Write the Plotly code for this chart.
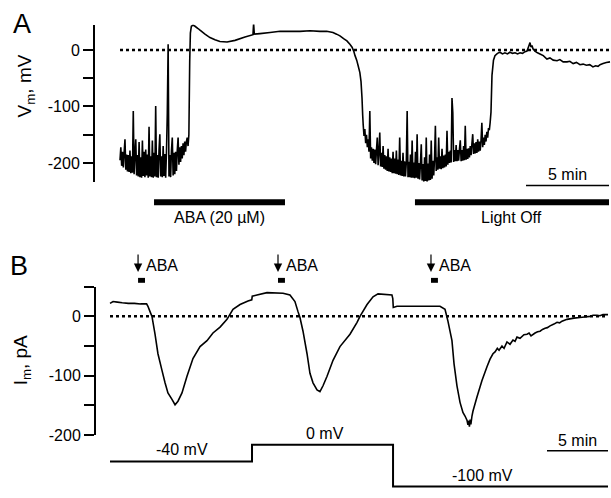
import plotly.graph_objects as go

W, H = 611, 498
FONT = "Liberation Sans, Arial, sans-serif"


def px(x):
    return x / W


def py(y):
    return (H - y) / H


# ---------------- Panel A: membrane potential (time in min, Vm in mV) ----------------
# noisy resting phase before ABA depolarisation
a_t1 = [0.00, 0.05, 0.10, 0.15, 0.20, 0.25, 0.30, 0.35, 0.40, 0.45,
        0.50, 0.55, 0.60, 0.65, 0.70, 0.75, 0.80, 0.85, 0.90, 0.95,
        1.00, 1.05, 1.10, 1.15, 1.20, 1.25, 1.30, 1.35, 1.40, 1.45,
        1.50, 1.55, 1.60, 1.65, 1.70, 1.75, 1.80, 1.85, 1.90, 1.95,
        2.00, 2.05, 2.10, 2.15, 2.20, 2.25, 2.30, 2.35, 2.40, 2.45,
        2.50, 2.55, 2.60, 2.65, 2.70, 2.75, 2.80, 2.85, 2.90, 2.95,
        3.00, 3.05, 3.10, 3.15, 3.20, 3.25, 3.30, 3.35, 3.40, 3.45,
        3.50, 3.55, 3.60, 3.65, 3.70, 3.75, 3.80, 3.85, 3.90, 3.95,
        4.00, 4.05, 4.10, 4.15]
a_v1 = [-195, -172, -205, -180, -208, -182, -158, -212, -185, -215,
        -186, -216, -178, -218, -188, -217, -108, -220, -184, -158,
        -222, -186, -224, -163, -225, -190, -226, -160, -223, -180,
        -225, -176, -222, -185, -226, -136, -224, -188, -225, -160,
        -226, -182, -224, -99, -225, -186, -226, -178, -149, -224,
        -188, -225, -170, -223, -184, -226, -180, -111, 10, -224,
        -186, -225, -178, -155, -222, -182, -220, -180, -214, -178,
        -155, -203, -172, -198, -170, -192, -165, -186, -162, -180,
        -162, -155, -170, -150]
# depolarised plateau and repolarisation
a_t2 = [4.20, 4.24, 4.30, 4.40, 4.52, 4.70, 4.82, 5.12, 5.42, 5.72, 6.02, 6.45, 6.93,
        7.53, 8.01, 8.05, 8.09, 8.43, 9.04, 9.64, 10.24, 10.84, 11.45, 12.05, 12.45,
        12.83, 13.05, 13.25, 13.47, 13.67, 13.85, 13.98, 14.08, 14.16, 14.26, 14.34,
        14.45, 14.52, 14.58, 14.62]
a_v2 = [-20, 30, 42, 44, 42, 38, 35, 28, 22, 18, 15, 14, 17,
        23, 27, 47, 28, 29, 31, 33, 33, 33, 34, 33, 33,
        31, 28, 25, 20, 16, 10, 5, -2, -10, -18, -27,
        -40, -56, -85, -115]
# noisy hyperpolarised phase
a_t3 = [14.65, 14.70, 14.75, 14.80, 14.85, 14.90, 14.95, 15.00, 15.05, 15.10,
        15.15, 15.20, 15.25, 15.30, 15.35, 15.40, 15.45, 15.50, 15.55, 15.60,
        15.65, 15.70, 15.75, 15.80, 15.85, 15.90, 15.95, 16.00, 16.05, 16.10,
        16.15, 16.20, 16.25, 16.30, 16.35, 16.40, 16.45, 16.50, 16.55, 16.60,
        16.65, 16.70, 16.75, 16.80, 16.85, 16.90, 16.95, 17.00, 17.05, 17.10,
        17.15, 17.20, 17.25, 17.30, 17.35, 17.40, 17.45, 17.50, 17.55, 17.60,
        17.65, 17.70, 17.75, 17.80, 17.85, 17.90, 17.95, 18.00, 18.05, 18.10,
        18.15, 18.20, 18.25, 18.30, 18.35, 18.40, 18.45, 18.50, 18.55, 18.60,
        18.65, 18.70, 18.75, 18.80, 18.85, 18.90, 18.95, 19.00, 19.05, 19.10,
        19.15, 19.20, 19.25, 19.30, 19.35, 19.40, 19.45, 19.50, 19.55, 19.60,
        19.65, 19.70, 19.75, 19.80, 19.85, 19.90, 19.95, 20.00, 20.05, 20.10,
        20.15, 20.20, 20.25, 20.30, 20.35, 20.40, 20.45, 20.50, 20.55, 20.60,
        20.65, 20.70, 20.75, 20.80, 20.85, 20.90, 20.95, 21.00, 21.05, 21.10,
        21.15, 21.20, 21.25, 21.30, 21.35, 21.40, 21.45, 21.50, 21.55, 21.60,
        21.65, 21.70, 21.75, 21.80, 21.85, 21.90, 21.95, 22.00, 22.05, 22.10,
        22.15, 22.20, 22.25, 22.30, 22.35]
a_v3 = [-132, -152, -140, -165, -150, -172, -158, -180, -108, -192,
        -172, -196, -175, -200, -176, -202, -178, -155, -204, -180,
        -146, -206, -182, -207, -170, -210, -186, -212, -188, -214,
        -175, -215, -190, -216, -192, -218, -180, -218, -192, -219,
        -178, -220, -194, -221, -155, -222, -196, -223, -182, -224,
        -197, -224, -198, -108, -225, -198, -225, -185, -226, -160,
        -226, -199, -227, -180, -226, -149, -228, -200, -229, -201,
        -167, -231, -202, -233, -190, -232, -155, -233, -201, -231,
        -185, -230, -160, -228, -196, -222, -192, -134, -214, -190,
        -212, -155, -210, -188, -211, -175, -209, -187, -208, -185,
        -206, -143, -203, -180, -200, -178, -199, -85, -111, -198,
        -177, -197, -168, -197, -177, -196, -176, -160, -197, -177,
        -196, -170, -195, -134, -194, -175, -193, -174, -190, -170,
        -186, -166, -149, -184, -165, -183, -163, -182, -158, -180,
        -162, -178, -160, -129, -172, -155, -168, -150, -162, -145,
        -155, -138, -142, -128, -110]
# recovery near 0 mV
a_t4 = [22.41, 22.50, 22.59, 22.74, 22.89, 23.04, 23.19, 23.34, 23.49, 23.65, 23.80,
        23.95, 24.10, 24.25, 24.40, 24.52, 24.64, 24.70, 24.76, 24.82, 24.88, 25.00,
        25.15, 25.30, 25.50, 25.72, 25.90, 26.10, 26.33, 26.50, 26.70, 26.93, 27.10,
        27.30, 27.50, 27.71, 27.90, 28.10, 28.30, 28.49, 28.65, 28.80, 28.92, 29.10,
        29.30, 29.52]
a_v4 = [-45, -18, -10, -6, -4, -7, -5, -7, -4, -6, -5,
        -7, -5, -6, -3, -2, 8, 13, 5, 8, 2, -2,
        -5, -7, -10, -16, -14, -18, -19, -17, -21, -21, -20,
        -24, -22, -26, -25, -27, -26, -30, -28, -29, -26, -24,
        -22, -21]

a_ticks = [-200, -150, -100, -50, 0]
a_ticklabels = ["-200", "", "-100", "", "0"]
a_bar_start = [2.05, 17.77]
a_bar_end = [9.94, 29.46]
a_bar_labels = ["ABA (20 µM)", "Light Off"]
a_scale_end = 29.46

# ---------------- Panel B: membrane current (time in min, Im in pA) ----------------
b_t = [0.00, 0.25, 0.60, 1.00, 1.50, 2.00, 2.50, 3.00, 3.11, 3.28, 3.44, 3.69, 3.93, 4.26,
       4.51, 4.75, 5.08, 5.33, 5.57, 5.90, 6.31, 6.80, 7.38, 7.95, 8.44, 9.02, 9.59, 10.08,
       10.66, 11.31, 11.62, 11.66, 12.05, 12.87, 14.18, 14.75, 15.16, 15.41, 15.57, 15.82,
       16.15, 16.39, 16.64, 16.97, 17.21, 17.46, 17.79, 18.28, 18.85, 19.67, 20.25, 20.49,
       21.07, 21.56, 21.97, 23.11, 23.18, 23.22, 23.52, 25.00, 27.05, 27.46, 27.70, 28.03,
       28.20, 28.44, 28.69, 28.93, 29.10, 29.26, 29.34, 29.40, 29.46, 29.52, 29.58, 29.67,
       29.75, 30.08, 30.49, 30.90, 31.15, 31.39, 31.56, 31.75, 31.89, 32.13, 32.30, 32.54,
       32.79, 33.03, 33.20, 33.36, 33.61, 33.93, 34.18, 34.35, 34.51, 34.84, 35.05, 35.25,
       35.45, 35.66, 35.85, 36.07, 36.39, 36.64, 36.85, 37.05, 37.46, 38.03, 38.52, 38.90,
       39.34, 39.60, 39.92, 40.16, 40.41, 40.82]
b_i = [22, 25, 24, 23, 22, 22, 21, 21, 17, 8, 0, -30, -63, -91,
       -112, -129, -140, -149, -143, -129, -101, -71, -51, -41, -28, -18, -5, 12,
       20, 26, 28, 34, 36, 40, 39, 36, 25, 8, -2, -25,
       -63, -96, -112, -124, -127, -117, -101, -74, -51, -30, -10, 0,
       20, 33, 38, 36, 30, 15, 17, 17, 17, 12, -8, -41,
       -80, -117, -145, -162, -168, -175, -183, -176, -186, -174, -182, -168,
       -160, -136, -108, -85, -72, -63, -60, -54, -57, -50, -54, -43,
       -47, -40, -42, -35, -37, -31, -30, -28, -33, -28, -26, -25,
       -22, -20, -19, -16, -13, -10, -11, -8, -5, -3, -2, -1,
       0, 2, 2, 1, 3, 3]

b_ticks = [-200, -150, -100, -50, 0, 50]
b_ticklabels = ["-200", "", "-100", "", "0", ""]
b_aba_start = [2.30, 13.77, 26.31]
b_aba_dur = 0.57
b_scale_end = 40.82

# voltage-clamp protocol
vstep_t = [0, 11.64, 23.20, 40.82]
vstep_v = [-40, 0, -100, -100]
vstep_label_t = [5.9, 17.6, 30.5]
vstep_label_v = [-40, 0, -100]
vstep_labels = ["-40 mV", "0 mV", "-100 mV"]

scale_min = 5

a_t = a_t1 + a_t2 + a_t3 + a_t4
a_v = a_v1 + a_v2 + a_v3 + a_v4

fig = go.Figure()

# zero reference lines
fig.add_trace(go.Scatter(x=[0, a_t[-1]], y=[0, 0], xaxis="x", yaxis="y", mode="lines",
                         line=dict(color="black", width=2.5, dash="dot")))
fig.add_trace(go.Scatter(x=[0, b_t[-1]], y=[0, 0], xaxis="x2", yaxis="y2", mode="lines",
                         line=dict(color="black", width=2.5, dash="dot")))
# data traces
fig.add_trace(go.Scatter(x=a_t, y=a_v, xaxis="x", yaxis="y", mode="lines",
                         line=dict(color="black", width=1.6, simplify=False)))
fig.add_trace(go.Scatter(x=b_t, y=b_i, xaxis="x2", yaxis="y2", mode="lines",
                         line=dict(color="black", width=1.6, simplify=False)))
fig.add_trace(go.Scatter(x=vstep_t, y=vstep_v, xaxis="x2", yaxis="y3", mode="lines",
                         line=dict(color="black", width=2, shape="hv")))

shapes = []
annotations = []
# Panel A treatment bars
for s, e, lab in zip(a_bar_start, a_bar_end, a_bar_labels):
    shapes.append(dict(type="rect", xref="x", yref="paper", x0=s, x1=e,
                       y0=py(209), y1=py(203), fillcolor="black", line=dict(width=0)))
    annotations.append(dict(x=(s + e) / 2, y=py(221), xref="x", yref="paper", text=lab,
                            xanchor="center", yanchor="middle",
                            showarrow=False, font=dict(size=16)))
# scale bars
shapes.append(dict(type="line", xref="x", yref="paper", x0=a_scale_end - scale_min,
                   x1=a_scale_end, y0=py(189), y1=py(189), line=dict(color="black", width=1.5)))
annotations.append(dict(x=a_scale_end - scale_min / 2, y=py(178), xref="x", yref="paper",
                        xanchor="center", yanchor="middle",
                        text=f"{scale_min} min", showarrow=False, font=dict(size=16)))
shapes.append(dict(type="line", xref="x2", yref="paper", x0=b_scale_end - scale_min,
                   x1=b_scale_end, y0=py(459), y1=py(459), line=dict(color="black", width=1.5)))
annotations.append(dict(x=b_scale_end - scale_min / 2, y=py(449), xref="x2", yref="paper",
                        xanchor="center", yanchor="middle",
                        text=f"{scale_min} min", showarrow=False, font=dict(size=16)))
# ABA pulses panel B
for s in b_aba_start:
    shapes.append(dict(type="rect", xref="x2", yref="paper", x0=s, x1=s + b_aba_dur,
                       y0=py(288), y1=py(283), fillcolor="black", line=dict(width=0)))
    annotations.append(dict(x=s, y=py(277), xref="x2", yref="paper", text="",
                            showarrow=True, ax=0, ay=-19, arrowhead=2, arrowsize=1.4,
                            arrowwidth=1.2, arrowcolor="black", standoff=0))
    annotations.append(dict(x=s, y=py(270), xref="x2", yref="paper", text="ABA",
                            xanchor="left", yanchor="middle", xshift=6,
                            showarrow=False, font=dict(size=16)))
# voltage step labels
for t, v, lab in zip(vstep_label_t, vstep_label_v, vstep_labels):
    annotations.append(dict(x=t, y=v, xref="x2", yref="y3", text=lab, xanchor="center",
                            yanchor="bottom", yshift=1, showarrow=False, font=dict(size=16)))
# panel letters and axis titles
annotations += [
    dict(x=px(22), y=py(24), xref="paper", yref="paper", text="A", showarrow=False,
         xanchor="center", yanchor="middle", font=dict(size=27)),
    dict(x=px(19), y=py(271), xref="paper", yref="paper", text="B", showarrow=False,
         xanchor="center", yanchor="middle", font=dict(size=27)),
    dict(x=px(26), y=py(88), xref="paper", yref="paper", text="V<sub>m</sub>, mV",
         textangle=-90, xanchor="center", yanchor="middle", showarrow=False,
         font=dict(size=19)),
    dict(x=px(22), y=py(367), xref="paper", yref="paper", text="I<sub>m</sub>, pA",
         textangle=-90, xanchor="center", yanchor="middle", showarrow=False,
         font=dict(size=19)),
]

yax_common = dict(showline=True, linecolor="black", linewidth=2, ticks="outside",
                  ticklen=10, tickwidth=2, tickcolor="black", showgrid=False,
                  zeroline=False, tickfont=dict(size=16, color="black"))

fig.update_layout(
    width=W, height=H, margin=dict(l=0, r=0, t=0, b=0),
    paper_bgcolor="white", plot_bgcolor="white", showlegend=False,
    font=dict(family=FONT, color="black"),
    xaxis=dict(domain=[px(95), 1], range=[-1.506, 29.58], visible=False, anchor="y"),
    yaxis=dict(domain=[py(185), py(25)], range=[-233, 45], anchor="x",
               tickvals=a_ticks, ticktext=a_ticklabels, **yax_common),
    xaxis2=dict(domain=[px(96), 1], range=[-1.148, 41.066], visible=False, anchor="y2"),
    yaxis2=dict(domain=[py(443), py(292)], range=[-200, 50], anchor="x2",
                tickvals=b_ticks, ticktext=b_ticklabels, **yax_common),
    yaxis3=dict(domain=[0, py(445)], range=[-105.9, 18.8], anchor="x2", visible=False),
    shapes=shapes, annotations=annotations,
)

fig.write_html(
    "out.html",
    config={"displayModeBar": False},
    post_script="document.body.style.margin='0';"
                "document.documentElement.style.overflow='hidden';",
)
